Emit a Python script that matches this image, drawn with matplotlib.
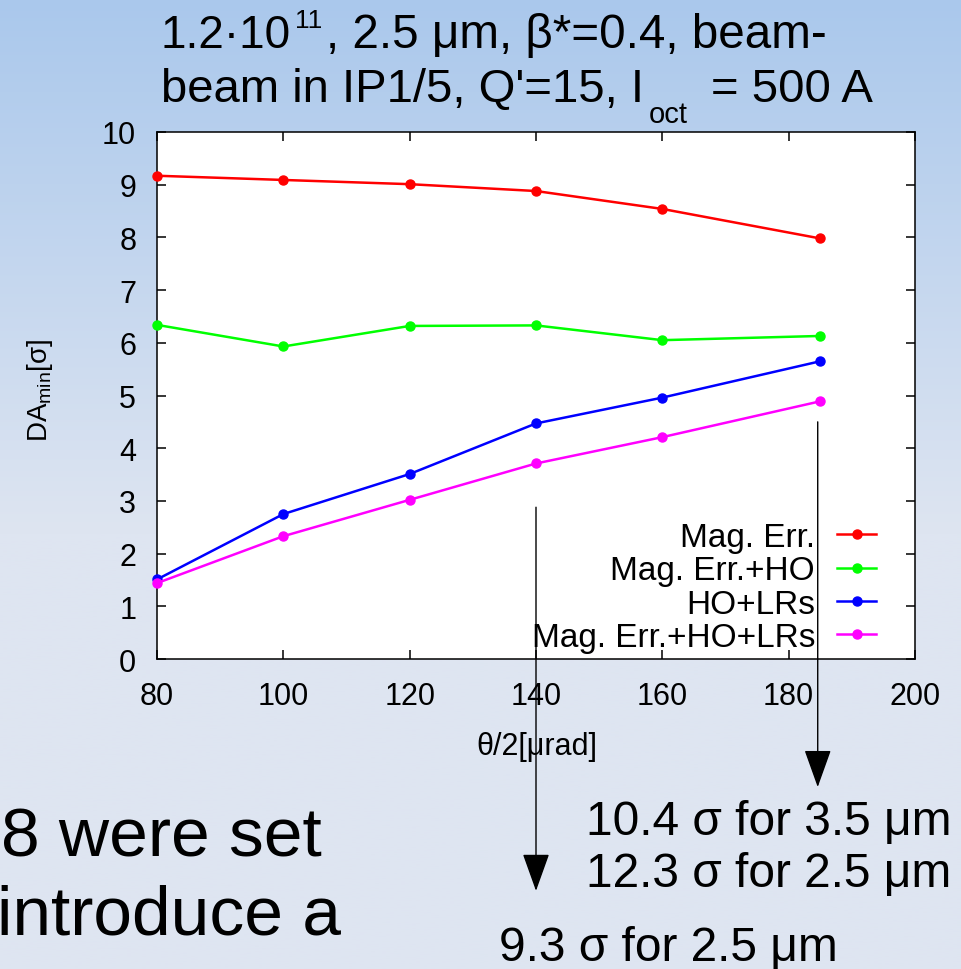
import numpy as np
import matplotlib.pyplot as plt

plt.rcParams['font.family'] = ['Liberation Sans', 'DejaVu Sans']
plt.rcParams['mathtext.fontset'] = 'custom'
plt.rcParams['mathtext.rm'] = 'Liberation Sans'
plt.rcParams['mathtext.it'] = 'Liberation Sans:italic'

W, H = 961, 970

# data
theta = [80, 100, 120, 140, 160, 185]
mag_err = [9.17, 9.09, 9.01, 8.88, 8.54, 7.98]
mag_err_ho = [6.34, 5.93, 6.32, 6.33, 6.05, 6.13]
ho_lrs = [1.51, 2.75, 3.51, 4.47, 4.96, 5.65]
mag_err_ho_lrs = [1.44, 2.33, 3.02, 3.71, 4.21, 4.89]
series_labels = ['Mag. Err.', 'Mag. Err.+HO', 'HO+LRs', 'Mag. Err.+HO+LRs']
series_colors = ['#ff0000', '#00ff00', '#0000ff', '#ff00ff']

xticks = [80, 100, 120, 140, 160, 180, 200]
yticks = [0, 1, 2, 3, 4, 5, 6, 7, 8, 9, 10]

# arrows (data units): x, start y, tip y
arrow_x = [140, 184.6]
arrow_from = [2.88, 4.50]
arrow_to = [-4.40, -2.43]
note_lines = ['9.3 σ for 2.5 μm', '10.4 σ for 3.5 μm', '12.3 σ for 2.5 μm']
slide_lines = ['8 were set', 'introduce a']


def fx(px):
    return px / W


def fy(py):
    return 1 - py / H


fig = plt.figure(figsize=(W / 100, H / 100), dpi=100)

# slide background gradient
bg = fig.add_axes([0, 0, 1, 1], zorder=-5)
rows = np.linspace(0, 1, 400)
top = np.array([170, 200, 236]) / 255
bot = np.array([222, 229, 241]) / 255
t = np.clip(rows / 0.55, 0, 1)[:, None]
grad = top * (1 - t) + bot * t
bg.imshow(grad[:, None, :], aspect='auto', extent=[0, 1, 0, 1])
bg.axis('off')

ax = fig.add_axes([fx(157), fy(660), fx(915 - 157), (660 - 133) / H])
ax.set_facecolor('white')

all_series = [mag_err, mag_err_ho, ho_lrs, mag_err_ho_lrs]
for vals, lab, col in zip(all_series, series_labels, series_colors):
    ax.plot(theta, vals, '-o', color=col, lw=1.8, ms=6.5, label=lab,
            clip_on=False, zorder=3)

ax.set_xlim(80, 200)
ax.set_ylim(0, 10)
ax.set_xticks(xticks)
ax.set_yticks(yticks)
ax.tick_params(direction='in', length=6.5, width=1.1, top=True, right=True,
               labelsize=22)
ax.tick_params(axis='y', pad=15)
ax.tick_params(axis='x', pad=16)
for sp in ax.spines.values():
    sp.set_linewidth(1.1)

ax.legend(loc='lower right', bbox_to_anchor=(fx(876), fy(654)),
          bbox_transform=fig.transFigure, frameon=False, markerfirst=False,
          numpoints=1, fontsize=24, handlelength=1.17, handletextpad=0.66,
          labelspacing=0.07, borderpad=0, borderaxespad=0)

fig.text(fx(537), fy(747), 'θ/2[μrad]', fontsize=22, ha='center', va='center')
fig.text(fx(40), fy(390), r'DA$_{\mathrm{min}}$[σ]', fontsize=20,
         rotation=90, ha='center', va='center')

# title, written in pieces like the slide
fig.text(fx(160), fy(48), '1.2·10', fontsize=33, va='baseline')
fig.text(fx(295), fy(28), '11', fontsize=19, va='baseline')
fig.text(fx(326), fy(48), ', 2.5 μm, β*=0.4, beam-', fontsize=34.3, va='baseline')
fig.text(fx(161), fy(102), "beam in IP1/5, Q'=15, I", fontsize=34, va='baseline')
fig.text(fx(649), fy(123), 'oct', fontsize=21, va='baseline')
fig.text(fx(711), fy(102), '= 500 A', fontsize=34, va='baseline')

# arrows
for x0, y0, y1 in zip(arrow_x, arrow_from, arrow_to):
    ax.annotate('', xy=(x0, y1), xytext=(x0, y0), xycoords='data',
                annotation_clip=False, zorder=6,
                arrowprops=dict(arrowstyle='-|>,head_length=2.4,head_width=0.86',
                                mutation_scale=10, color='black', lw=1,
                                shrinkA=0, shrinkB=0))

fig.text(fx(499), fy(961), note_lines[0], fontsize=34.5, va='baseline')
fig.text(fx(586), fy(835), note_lines[1], fontsize=34.5, va='baseline')
fig.text(fx(586), fy(887), note_lines[2], fontsize=34.5, va='baseline')

fig.text(fx(1), fy(857), slide_lines[0], fontsize=50, va='baseline')
fig.text(fx(-3), fy(935), slide_lines[1], fontsize=50, va='baseline')

fig.savefig('out.png', dpi=100)
